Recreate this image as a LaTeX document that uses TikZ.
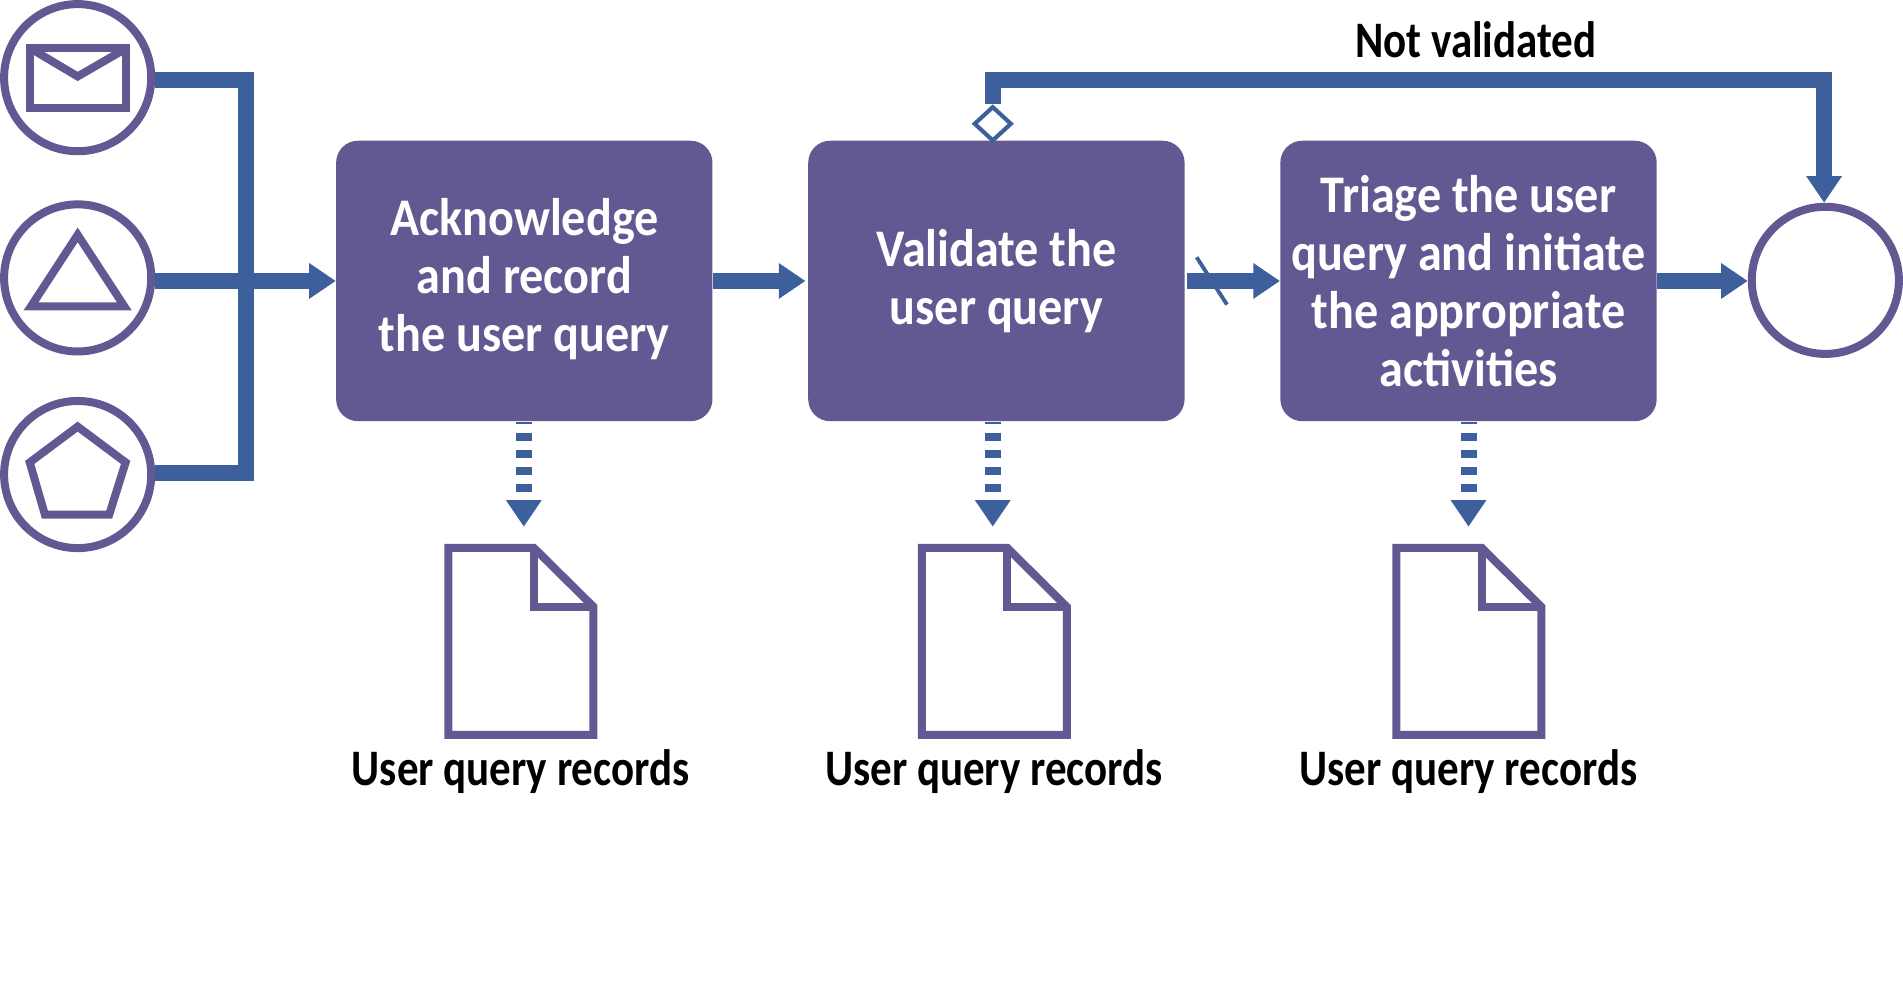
\documentclass[tikz,border=0pt]{standalone}
\usepackage{fontspec}
\usepackage{xcolor}
\usepackage{tikz}
\usetikzlibrary{arrows.meta,shapes.geometric}
\newfontfamily\taskfont[FakeStretch=0.91]{Carlito}
\newfontfamily\recordfont[FakeStretch=0.84]{Carlito}
\definecolor{boxfill}{HTML}{645893}
\definecolor{flowblue}{HTML}{3D5F9B}
\tikzset{
  taskbox/.style={fill=boxfill, rounded corners=.45cm, minimum width=7.75cm, minimum height=5.775cm,
    text width=7.6cm, align=flush center, text=white, inner sep=0pt,
    font=\taskfont\fontsize{31}{34}\selectfont\bfseries},
  eventring/.style={circle, draw=boxfill, line width=.165cm, minimum size=3.03cm, inner sep=0pt},
  glyph/.style={draw=boxfill, line width=.165cm, line join=miter},
  flowline/.style={draw=flowblue, line width=.33cm, line join=miter, miter limit=10},
  flowarrow/.style={flowline, -{Triangle[length=.55cm,width=.7cm]}},
  flowdash/.style={flowarrow, dash pattern=on .165cm off .185cm, dash phase=.115cm},
  gate/.style={diamond, draw=flowblue, fill=white, line width=.085cm, minimum width=.78cm, minimum height=.72cm, inner sep=0pt},
  recordlabel/.style={font=\recordfont\fontsize{30}{34}\selectfont\bfseries, inner sep=0pt}
}

\begin{document}
\begin{tikzpicture}[x=.025cm, y=-.025cm]
  \useasboundingbox (0,0) rectangle (1568,822.3);

  % Start events
  \node[eventring] (mail) at (64,64) {};
  \node[eventring] (tri) at (64,229) {};
  \node[eventring] (penta) at (64,391) {};
  \draw[glyph] (25,39.5) rectangle (104,89);
  \draw[glyph] (27,41) -- (64,63) -- (102,41);
  \draw[glyph] (25.5,252.5) -- (64,193.5) -- (102.5,252.5) -- cycle;
  \draw[glyph] (64,351.5) -- (103.5,381) -- (90,424) -- (37,424) -- (24.5,381) -- cycle;

  % Tasks
  \node[taskbox, text height=.67cm] (ack) at (432,231.5) {Acknowledge\\and record\\the user query};
  \node[taskbox] (val) at (821,231.5) {Validate the\\user query};
  \node[taskbox] (tria) at (1210,231.5) {Triage the user\\query and initiate\\the appropriate\\activities};
  \node[eventring] (end) at (1504,231) {};

  % Merge of the three events
  \coordinate (jointop) at (202.5,66);
  \coordinate (joinbot) at (202.5,390);
  \draw[flowline] (mail.east |- jointop) -- (jointop) -- (joinbot) -- (penta.east |- joinbot);
  \draw[flowarrow] (tri.east |- ack.west) -- (ack.west);

  % Sequence
  \draw[flowarrow, shorten >=.05cm] (ack.east) -- (val.west);
  \draw[flowarrow, shorten <=.05cm] (val.east) -- (tria.west);
  \draw[flowarrow] (tria.east) -- (end.west |- tria.east);
  \coordinate (slashtop) at (986,212);
  \coordinate (slashbot) at (1011,251);
  \draw[flowblue, line width=.08cm] (slashtop) -- (slashbot);

  % Not validated loop
  \coordinate (loopleft) at (818,66);
  \coordinate (loopright) at (1503,66);
  \node[gate] (check) at (818,102) {};
  \draw[flowarrow] (check.north) -- (loopleft) -- (loopright) -- (loopright |- end.north);
  \node[recordlabel] (notval) at (1216,33) {Not validated};

  % Records
  \foreach \name/\dx/\ax in {ack/0/431.6, val/390/818, tria/781/1210} {
    \coordinate (tip\name) at (\ax,434);
    \draw[flowdash] (\name.south -| tip\name) -- (tip\name);
    \begin{scope}[xshift=\dx*.025cm]
      \draw[glyph] (369.5,451.5) -- (440,451.5) -- (489,500) -- (489,605.5) -- (369.5,605.5) -- cycle;
      \draw[glyph] (440,451.5) -- (440,500) -- (489,500);
      \node[recordlabel] (rec\name) at (429,636) {User query records};
    \end{scope}
  }
\end{tikzpicture}
\end{document}
